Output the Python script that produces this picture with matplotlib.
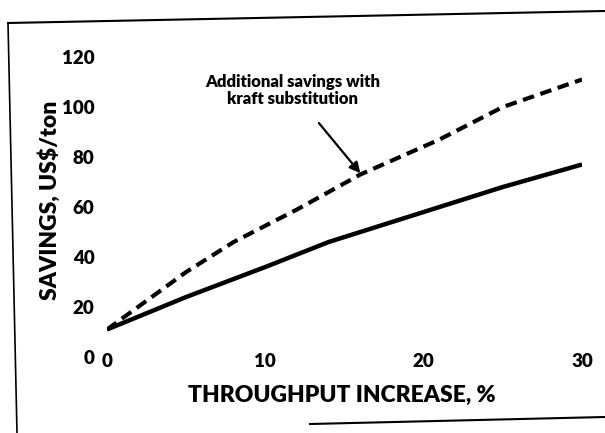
import numpy as np
import matplotlib
matplotlib.use('Agg')
import matplotlib.pyplot as plt
from matplotlib.lines import Line2D

# Savings vs throughput increase
x_base = [0, 5, 10, 14, 20, 25, 30]
savings_base = [11, 24, 36, 46, 58, 68, 77]

x_kraft = [0, 5, 8, 12, 16, 21, 25, 30]
savings_kraft = [11, 34, 46, 59, 73, 87, 100, 111]

x_ticks = [0, 10, 20, 30]
y_ticks = [0, 20, 40, 60, 80, 100, 120]

font = ['Lato', 'DejaVu Sans']
W, H = 605, 433

fig = plt.figure(figsize=(W / 100, H / 100), dpi=100)
ax = fig.add_axes([107 / W, 1 - 357 / H, (582 - 107) / W, 300 / H])

ax.plot(x_base, savings_base, color='black', lw=3.2, solid_capstyle='butt')
ax.plot(x_kraft, savings_kraft, color='black', lw=3, dashes=(2.8, 1.6))

ax.annotate('Additional savings with\nkraft substitution',
            xy=(16, 73.5), xytext=(11.7, 106.5),
            ha='center', va='center', fontsize=12, fontweight='heavy',
            family=font, linespacing=1.1,
            arrowprops=dict(arrowstyle='-|>', color='black', lw=1.6,
                            mutation_scale=16, shrinkA=12, shrinkB=0))

ax.set_xlim(0, 30)
ax.set_ylim(0, 120)
ax.set_xticks(x_ticks)
ax.set_yticks(y_ticks)
for lab in ax.get_xticklabels() + ax.get_yticklabels():
    lab.set_family(font)
    lab.set_fontweight('heavy')
    lab.set_fontsize(13.5)
ax.tick_params(axis='both', length=0)
ax.tick_params(axis='x', pad=-3)
ax.tick_params(axis='y', pad=9)
for s in ax.spines.values():
    s.set_visible(False)

fig.text(342 / W, 1 - 395 / H, 'THROUGHPUT INCREASE, %', ha='center', va='center',
         fontsize=16.5, fontweight='heavy', family=font)
fig.text(50 / W, 1 - 200 / H, 'SAVINGS, US$/ton', ha='center', va='center',
         rotation=90, fontsize=16.5, fontweight='heavy', family=font)

# scanned frame around the figure (slightly skewed)
fig.add_artist(Line2D([8 / W, 605 / W], [1 - 23 / H, 1 - 11 / H], color='black', lw=1.5))
fig.add_artist(Line2D([8 / W, 17 / W], [1 - 23 / H, 0], color='black', lw=1.2))
fig.add_artist(Line2D([310 / W, 605 / W], [1 - 424 / H, 1 - 417 / H], color='black', lw=1.5))

fig.savefig('out.png', dpi=100)
